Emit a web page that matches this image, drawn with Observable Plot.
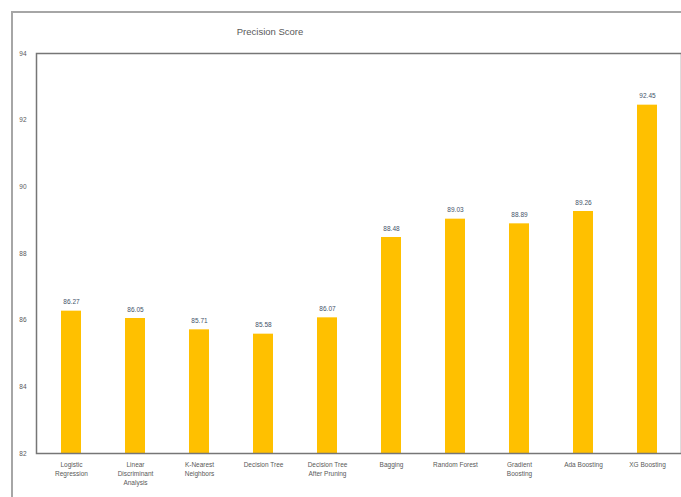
<!DOCTYPE html>
<html>
<head>
<meta charset="utf-8">
<script src="https://cdn.jsdelivr.net/npm/d3@7"></script>
<script src="https://cdn.jsdelivr.net/npm/@observablehq/plot@0.6"></script>
<style>
  html, body { margin: 0; padding: 0; background: #fff; overflow: hidden; }
  #wrap { position: relative; width: 681px; height: 497px; }
  #outer { position: absolute; left: 11px; top: 11px; width: 700px; height: 520px; border: 2px solid #a6a6a6; box-sizing: border-box; }
  #title { position: absolute; left: 170px; width: 200px; top: 26px; text-align: center; font: 9.5px "Liberation Sans", Arial, sans-serif; color: #595959; }
  #chart { position: absolute; left: 0; top: 0; }
</style>
</head>
<body>
<div id="wrap">
  <div id="outer"></div>
  <div id="title">Precision Score</div>
  <div id="chart"></div>
</div>
<script>
const models = ["Logistic Regression", "Linear Discriminant Analysis", "K-Nearest Neighbors", "Decision Tree", "Decision Tree After Pruning", "Bagging", "Random Forest", "Gradient Boosting", "Ada Boosting", "XG Boosting"];
const tickLabels = ["Logistic\nRegression", "Linear\nDiscriminant\nAnalysis", "K-Nearest\nNeighbors", "Decision Tree", "Decision Tree\nAfter Pruning", "Bagging", "Random Forest", "Gradient\nBoosting", "Ada Boosting", "XG Boosting"];
const precision = [86.27, 86.05, 85.71, 85.58, 86.07, 88.48, 89.03, 88.89, 89.26, 92.45];
const yTicks = [82, 84, 86, 88, 90, 92, 94];

const data = models.map((m, i) => ({model: m, value: precision[i], label: tickLabels[i]}));
const labelOf = new Map(data.map(d => [d.model, d.label]));

const chart = Plot.plot({
  width: 681,
  height: 497,
  marginTop: 53,
  marginBottom: 44,
  marginLeft: 36,
  marginRight: 0,
  style: {fontFamily: "Liberation Sans, Arial, sans-serif", fontSize: "7px", background: "transparent", color: "#595959"},
  x: {domain: models, paddingInner: 0.69, paddingOuter: 0.345, align: 0.5},
  y: {domain: [82, 94]},
  marks: [
    Plot.barY(data, {x: "model", y1: 82, y2: "value", fill: "#FFC000"}),
    Plot.text(data, {x: "model", y: "value", text: d => d.value.toFixed(2), dy: -9, fill: "#44546A", fontSize: 6.5}),
    Plot.frame({stroke: "#767676", strokeWidth: 1.5}),
    Plot.axisY({ticks: yTicks, tickSize: 0, tickPadding: 10, label: null, fill: "#595959", fontSize: 6.5}),
    Plot.axisX({tickSize: 0, tickPadding: 7, label: null, tickFormat: d => labelOf.get(d), lineHeight: 1.4, fill: "#595959", fontSize: 6.5})
  ]
});
document.getElementById("chart").appendChild(chart);
</script>
</body>
</html>
